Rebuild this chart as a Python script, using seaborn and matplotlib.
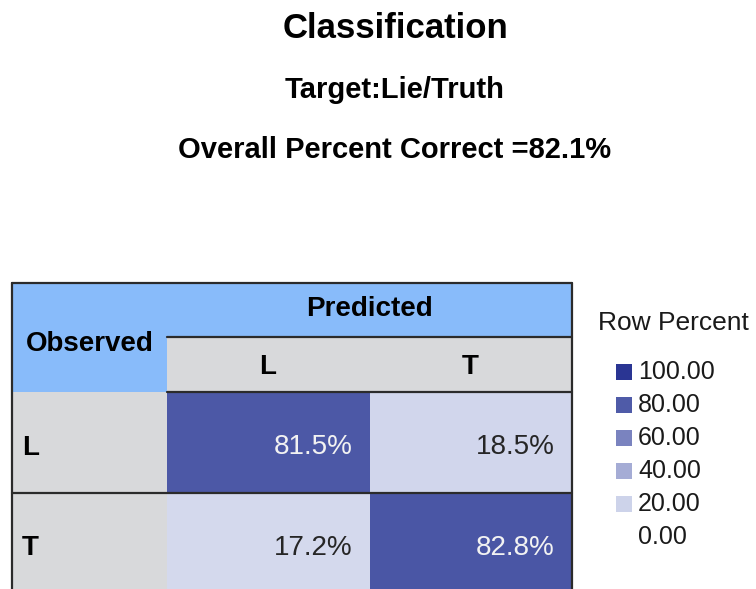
import numpy as np
import pandas as pd
import matplotlib.pyplot as plt
import seaborn as sns
from matplotlib.colors import LinearSegmentedColormap
from matplotlib.patches import Rectangle

# classification table values (row percent)
observed = ['L', 'T']
predicted = ['L', 'T']
row_pct = [[81.5, 18.5],
           [17.2, 82.8]]

legend_levels = [100, 80, 60, 40, 20, 0]
legend_colors = ['#2a3593', '#4f5ba8', '#7a83bf', '#a5acd5', '#cdd3ea', '#ffffff']

title = 'Classification'
target = 'Target:Lie/Truth'
overall = 'Overall Percent Correct =82.1%'

sns.set_theme(style='white')
plt.rcParams['font.family'] = ['Liberation Sans', 'DejaVu Sans']
plt.rcParams['text.color'] = 'black'

df = pd.DataFrame(row_pct, index=observed, columns=predicted)
cmap = LinearSegmentedColormap.from_list(
    'rowpct', list(zip([v / 100 for v in legend_levels[::-1]], legend_colors[::-1])))

W, H = 756, 589
fig = plt.figure(figsize=(W / 100, H / 100), dpi=100)
fig.patch.set_facecolor('white')

# table geometry in pixels
x0, xobs, xmid, x1 = 12, 167, 369, 572
y0, yh1, yh2, yrow, y1 = 283, 337, 392, 493, 594

ax = fig.add_axes([xobs / W, 1 - y1 / H, (x1 - xobs) / W, (y1 - yh2) / H], zorder=1)
sns.heatmap(df, ax=ax, cmap=cmap, vmin=0, vmax=100, cbar=False,
            xticklabels=False, yticklabels=False)
ax.set_xticks([])
ax.set_yticks([])
for i in range(len(observed)):
    for j in range(len(predicted)):
        v = df.iloc[i, j]
        ax.text(j + 1 - 0.085, i + 0.54, f'{v:.1f}%', ha='right', va='center',
                fontsize=20, color='#f2f2f2' if v > 50 else '#262626')

ov = fig.add_axes([0, 0, 1, 1], zorder=3)
ov.set_xlim(0, W)
ov.set_ylim(H, 0)
ov.axis('off')
ov.patch.set_alpha(0)

blue = '#88bbfa'
grey = '#d8d9db'
ov.add_patch(Rectangle((x0, y0), xobs - x0, yh2 - y0, color=blue, lw=0))
ov.add_patch(Rectangle((xobs, y0), x1 - xobs, yh1 - y0, color=blue, lw=0))
ov.add_patch(Rectangle((xobs, yh1), x1 - xobs, yh2 - yh1, color=grey, lw=0))
ov.add_patch(Rectangle((x0, yh2), xobs - x0, y1 - yh2, color=grey, lw=0))

lc = '#2b2b2b'
lw = 1.6
ov.plot([x0, x1], [y0, y0], color=lc, lw=lw)
ov.plot([x0, x0], [y0, y1], color=lc, lw=lw)
ov.plot([x1, x1], [y0, y1], color=lc, lw=lw)
ov.plot([xobs, x1], [yh1, yh1], color=lc, lw=lw)
ov.plot([xobs, x1], [yh2, yh2], color=lc, lw=lw)
ov.plot([x0, x1], [yrow, yrow], color=lc, lw=lw)

# headers
ov.text((xobs + x1) / 2, 309, 'Predicted', ha='center', va='center', fontsize=20, fontweight='bold')
ov.text((x0 + xobs) / 2, 344, 'Observed', ha='center', va='center', fontsize=20, fontweight='bold')
for j, lab in enumerate(predicted):
    cx = [(xobs + xmid) / 2, (xmid + x1) / 2][j]
    ov.text(cx, 367, lab, ha='center', va='center', fontsize=20, fontweight='bold')
for i, lab in enumerate(observed):
    ov.text(22, [448, 548][i], lab, ha='left', va='center', fontsize=20, fontweight='bold')

# titles
ov.text(396, 28, title, ha='center', va='center', fontsize=25, fontweight='bold')
ov.text(395, 90, target, ha='center', va='center', fontsize=21, fontweight='bold')
ov.text(395, 150, overall, ha='center', va='center', fontsize=21, fontweight='bold')

# legend
ov.text(598, 323, 'Row Percent', ha='left', va='center', fontsize=19, color='#1a1a1a')
for i, (lvl, col) in enumerate(zip(legend_levels, legend_colors)):
    cy = 372 + 33 * i
    if col != '#ffffff':
        ov.add_patch(Rectangle((616, cy - 8), 16, 16, color=col, lw=0))
    ov.text(638, cy, f'{lvl:.2f}', ha='left', va='center', fontsize=18, color='#1a1a1a')

fig.savefig('out.png', dpi=100)
